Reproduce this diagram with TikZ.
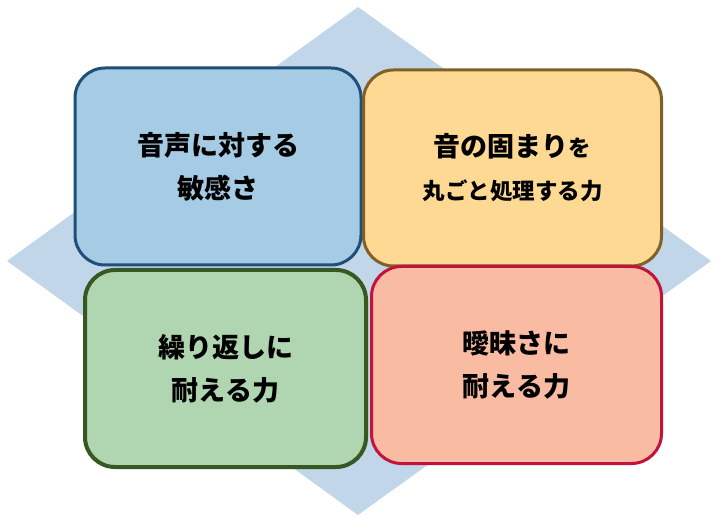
\documentclass[tikz,border=0pt]{standalone}
\usepackage{fontspec}
\setmainfont{Noto Sans CJK JP}
\begin{document}
\begin{tikzpicture}[x=1pt,y=-1pt,
  box/.style={rounded corners=30pt, line width=3pt, inner sep=0pt, align=center,
    font=\bfseries\fontsize{27}{43}\selectfont},
  bg/.style={fill=diamondblue, draw=none}]
\definecolor{diamondblue}{HTML}{C2D6EA}
\definecolor{bluefill}{HTML}{A5CCE4}
\definecolor{blueline}{HTML}{1F4E79}
\definecolor{orangefill}{HTML}{FED993}
\definecolor{orangeline}{HTML}{7F6128}
\definecolor{greenfill}{HTML}{AFD6B1}
\definecolor{greenline}{HTML}{385723}
\definecolor{redfill}{HTML}{F9BCA2}
\definecolor{redline}{HTML}{C0143C}
\useasboundingbox (0,0) rectangle (717,521);
\fill[white] (0,0) rectangle (717,521);
% background diamond
\coordinate (dt) at (358,7);
\coordinate (dr) at (711,261);
\coordinate (db) at (358,515);
\coordinate (dl) at (7,261);
\path[bg] (dt) -- (dr) -- (db) -- (dl) -- cycle;
% boxes
\node[box, fill=bluefill, draw=blueline, minimum width=286pt, minimum height=197pt]
  (sens) at (218,166.5) {音声に対する\\敏感さ};
\node[box, fill=orangefill, draw=orangeline, minimum width=298pt, minimum height=196pt]
  (chunk) at (512.5,168) {音の固まり{\fontsize{22.5}{40}\selectfont を}\\{\fontsize{22.5}{40}\selectfont 丸ごと処理する力}};
\node[box, fill=greenfill, draw=greenline, line width=4pt, minimum width=281pt, minimum height=197pt]
  (rep) at (225.5,368.5) {繰り返しに\\耐える力};
\node[box, fill=redfill, draw=redline, minimum width=290pt, minimum height=197pt]
  (amb) at (516.5,365) {曖昧さに\\耐える力};
\end{tikzpicture}
\end{document}
